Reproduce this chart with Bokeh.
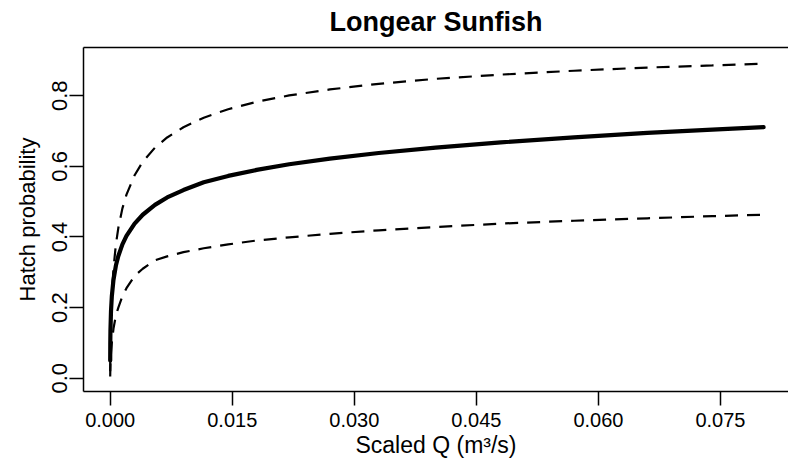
from bokeh.plotting import figure
from bokeh.models import Range1d, FixedTicker, PrintfTickFormatter, LinearAxis, ColumnDataSource
from bokeh.embed import file_html
from bokeh.resources import INLINE

# ---- data ----
scaled_q = [0.0000014, 0.00001, 0.00003, 0.0001, 0.0002, 0.0004, 0.0007, 0.001,
            0.0015, 0.002, 0.003, 0.004, 0.0055, 0.007, 0.009, 0.0115, 0.0145,
            0.018, 0.022, 0.027, 0.033, 0.040, 0.048, 0.057, 0.066, 0.074, 0.0803]
hatch_mean = [0.050, 0.096, 0.134, 0.191, 0.232, 0.278, 0.319, 0.346,
              0.379, 0.403, 0.438, 0.463, 0.491, 0.512, 0.533, 0.555, 0.573,
              0.590, 0.606, 0.622, 0.638, 0.653, 0.668, 0.682, 0.695, 0.704, 0.711]
hatch_upper = [0.020, 0.056, 0.098, 0.174, 0.235, 0.310, 0.379, 0.426,
               0.481, 0.520, 0.575, 0.613, 0.653, 0.682, 0.711, 0.738, 0.762,
               0.783, 0.801, 0.818, 0.834, 0.848, 0.860, 0.871, 0.880, 0.886, 0.891]
hatch_lower = [0.005, 0.020, 0.040, 0.072, 0.100, 0.140, 0.178, 0.200,
               0.232, 0.255, 0.290, 0.310, 0.334, 0.345, 0.357, 0.368, 0.379,
               0.390, 0.399, 0.409, 0.419, 0.428, 0.438, 0.446, 0.453, 0.459, 0.463]

x_ticks = [0.0, 0.015, 0.030, 0.045, 0.060, 0.075]
y_ticks = [0.0, 0.2, 0.4, 0.6, 0.8]

title_text = "Longear Sunfish"
x_label = "Scaled Q (m\u00b3/s)"
y_label = "Hatch probability"

FONT = "Liberation Sans"

src = ColumnDataSource(dict(x=scaled_q, mean=hatch_mean, up=hatch_upper, lo=hatch_lower))

p = figure(width=788, height=468, output_backend="svg", toolbar_location=None,
           x_range=Range1d(-0.003281, 0.08336), y_range=Range1d(-0.0377, 0.9368),
           min_border_left=83, min_border_right=0, min_border_top=47, min_border_bottom=77,
           background_fill_color="white", border_fill_color="white")
p.outline_line_color = None
p.grid.visible = False

for ax in (p.xaxis[0], p.yaxis[0]):
    ax.axis_line_width = 1.5
    ax.axis_line_color = "black"
    ax.major_tick_line_width = 1.5
    ax.major_tick_line_color = "black"
    ax.major_tick_in = 0
    ax.major_tick_out = 14
    ax.minor_tick_line_color = None
    ax.major_label_text_font = FONT
    ax.major_label_text_color = "black"
    ax.axis_label_text_font = FONT
    ax.axis_label_text_font_style = "normal"
    ax.axis_label_text_color = "black"

p.xaxis[0].ticker = FixedTicker(ticks=x_ticks)
p.xaxis[0].formatter = PrintfTickFormatter(format="%.3f")
p.xaxis[0].axis_label = x_label
p.xaxis[0].major_label_text_font_size = "20px"
p.xaxis[0].axis_label_text_font_size = "23px"
p.xaxis[0].major_label_standoff = 7
p.xaxis[0].axis_label_standoff = 2

p.yaxis[0].ticker = FixedTicker(ticks=y_ticks)
p.yaxis[0].formatter = PrintfTickFormatter(format="%.1f")
p.yaxis[0].axis_label = y_label
p.yaxis[0].major_label_text_font_size = "22px"
p.yaxis[0].axis_label_text_font_size = "22px"
p.yaxis[0].major_label_orientation = "vertical"
p.yaxis[0].major_label_standoff = 2
p.yaxis[0].axis_label_standoff = 10

# top border of the box; its axis label carries the title
top = LinearAxis(ticker=FixedTicker(ticks=[]), major_tick_out=0, major_tick_in=0,
                 major_label_text_font_size="0px", major_label_standoff=0,
                 axis_line_width=1.5, axis_line_color="black", minor_tick_line_color=None,
                 axis_label=title_text, axis_label_text_font=FONT,
                 axis_label_text_font_size="27px", axis_label_text_font_style="bold",
                 axis_label_text_color="black", axis_label_standoff=11)
p.add_layout(top, "above")

p.line("x", "up", source=src, line_color="black", line_width=2.2, line_dash="13 9")
p.line("x", "lo", source=src, line_color="black", line_width=2.2, line_dash="13 9")
p.line("x", "mean", source=src, line_color="black", line_width=4.2, line_cap="round", line_join="round")

open("out.html", "w").write(file_html(p, INLINE))
